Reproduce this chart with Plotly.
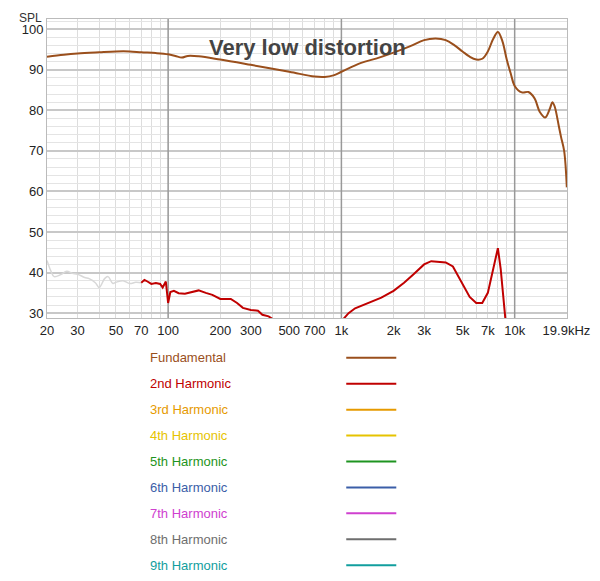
import plotly.graph_objects as go

# fundamental response
fund_f = [20, 25, 30, 40, 50, 60, 70, 85, 100, 110, 120, 130, 150, 200, 300, 500, 700, 800, 900,
          1000, 1300, 1600, 2000, 2500, 3000, 3500, 4000, 4500, 5000, 5500, 6000, 6500, 7000, 7500,
          8000, 8500, 9000, 9500, 10000, 11000, 12000, 13000, 14000, 15000, 16000, 16500, 17000,
          18000, 18500, 19300, 20000]
fund_db = [93.2, 93.7, 94.0, 94.3, 94.5, 94.5, 94.3, 94.1, 93.8, 93.4, 93.0, 93.4, 93.3, 92.5, 91.2,
           89.5, 88.3, 88.2, 88.6, 89.5, 91.7, 92.8, 94.2, 95.8, 97.3, 97.7, 97.3, 96.0, 94.5, 93.2,
           92.5, 92.7, 94.5, 97.5, 99.3, 97.0, 92.5, 89.0, 86.0, 84.4, 84.5, 83.0, 79.5, 78.2, 80.5,
           82.0, 81.0, 76.0, 73.5, 70.0, 61.0]

# 2nd harmonic, below the measurement floor (grey)
low_f = [20, 21, 22, 24, 26, 28, 30, 33, 35, 38, 40, 43, 45, 48, 50, 55, 60, 65, 70]
low_db = [43.0, 40.5, 39.0, 39.5, 40.3, 39.8, 39.6, 38.8, 38.5, 37.5, 36.3, 38.5, 39.0, 37.3, 37.6,
          38.0, 37.3, 37.6, 37.5]

# 2nd harmonic
h2_f = [70, 73, 76, 80, 85, 90, 93, 97, 100, 103, 108, 115, 125, 140, 150, 165, 180, 200, 230, 250,
        270, 300, 330, 350, 380, 420, 500, 700, 900, 1000, 1100, 1200, 1300, 1500, 1700, 2000, 2300,
        2600, 3000, 3300, 3600, 4000, 4400, 5000, 5500, 6000, 6500, 7000, 7500, 8000, 8300, 8700, 9000]
h2_db = [37.5, 38.2, 37.8, 37.2, 37.4, 37.2, 36.3, 37.8, 32.5, 35.2, 35.5, 34.9, 34.8, 35.2, 35.6,
         35.0, 34.5, 33.5, 33.5, 32.5, 31.3, 30.8, 30.6, 29.6, 29.2, 28.0, 26.0, 24.0, 26.0, 28.0,
         30.0, 31.2, 31.8, 33.0, 33.8, 35.5, 37.5, 39.5, 42.0, 42.8, 42.6, 42.5, 41.5, 37.0, 34.0,
         32.5, 32.5, 35.0, 41.0, 46.0, 41.0, 32.0, 25.0]

legend_names = ["Fundamental", "2nd Harmonic", "3rd Harmonic", "4th Harmonic", "5th Harmonic",
                "6th Harmonic", "7th Harmonic", "8th Harmonic", "9th Harmonic"]
legend_colors = ["#9a4f1c", "#c00000", "#e69a00", "#e6c300", "#1e9420", "#3b5ea8", "#cf40cf",
                 "#6e6e6e", "#119e9e"]

tick_vals = [20, 30, 50, 70, 100, 200, 300, 500, 700, 1000, 2000, 3000, 5000, 7000, 10000, 19900]
tick_text = ["20", "30", "50", "70", "100", "200", "300", "500", "700", "1k", "2k", "3k", "5k",
             "7k", "10k", "19.9kHz"]

fig = go.Figure()

# decade grid lines (darker)
gx, gy = [], []
for d in [100, 1000, 10000]:
    gx += [d, d, None]
    gy += [0, 200, None]
fig.add_trace(go.Scatter(x=gx, y=gy, mode="lines", line=dict(color="#999999", width=1.5),
                         hoverinfo="skip", showlegend=False))

fig.add_trace(go.Scatter(x=low_f, y=low_db, mode="lines", line=dict(color="#d8d8d8", width=1.5),
                         showlegend=False, line_shape="spline"))
fig.add_trace(go.Scatter(x=h2_f, y=h2_db, mode="lines", line=dict(color=legend_colors[1], width=2),
                         showlegend=False))
fig.add_trace(go.Scatter(x=fund_f, y=fund_db, mode="lines", line=dict(color=legend_colors[0], width=2),
                         showlegend=False, line_shape="spline"))

# legend drawn below the plot
for i, (name, col) in enumerate(zip(legend_names, legend_colors)):
    yp = (318 - (358 + 26 * i)) / 300
    fig.add_annotation(x=(150 - 47) / 530, y=yp, xref="paper", yref="paper", text=name,
                       showarrow=False, xanchor="left", yanchor="middle",
                       font=dict(color=col, size=13))
    fig.add_shape(type="line", xref="paper", yref="paper", x0=(352 - 47) / 530, x1=(403 - 47) / 530,
                  y0=yp, y1=yp, line=dict(color=col, width=2))

fig.add_annotation(x=0.5, y=(318 - 32) / 300, xref="paper", yref="paper", text="<b>Very low distortion</b>",
                   showarrow=False, font=dict(size=22, color="#444444"))
fig.add_annotation(x=-0.005, y=1 + 10 / 300, xref="paper", yref="paper", text="SPL",
                   showarrow=False, xanchor="right", yanchor="top", font=dict(size=12, color="#333333"))

fig.update_xaxes(type="log", range=[1.301, 4.302], tickvals=tick_vals, ticktext=tick_text,
                 showgrid=False, ticks="", tickfont=dict(size=13, color="#222222"),
                 ticklabeloverflow="allow",
                 minor=dict(dtick="D1", showgrid=True, gridcolor="#dddddd", gridwidth=1, ticks=""),
                 showline=True, linecolor="#bbbbbb", mirror=True, zeroline=False)
fig.update_yaxes(range=[28.8, 102.5], tickvals=[30, 40, 50, 60, 70, 80, 90, 100],
                 gridcolor="#c8c8c8", gridwidth=1.5, ticks="", tickfont=dict(size=13, color="#222222"),
                 minor=dict(dtick=2, showgrid=True, gridcolor="#e4e4e4", gridwidth=1),
                 showline=True, linecolor="#bbbbbb", mirror=True, zeroline=False)

fig.update_layout(width=592, height=573, margin=dict(l=39, r=23, t=10, b=263),
                  plot_bgcolor="white", paper_bgcolor="white",
                  font=dict(family="Liberation Sans, Arial, sans-serif"))

fig.write_html("out.html")
